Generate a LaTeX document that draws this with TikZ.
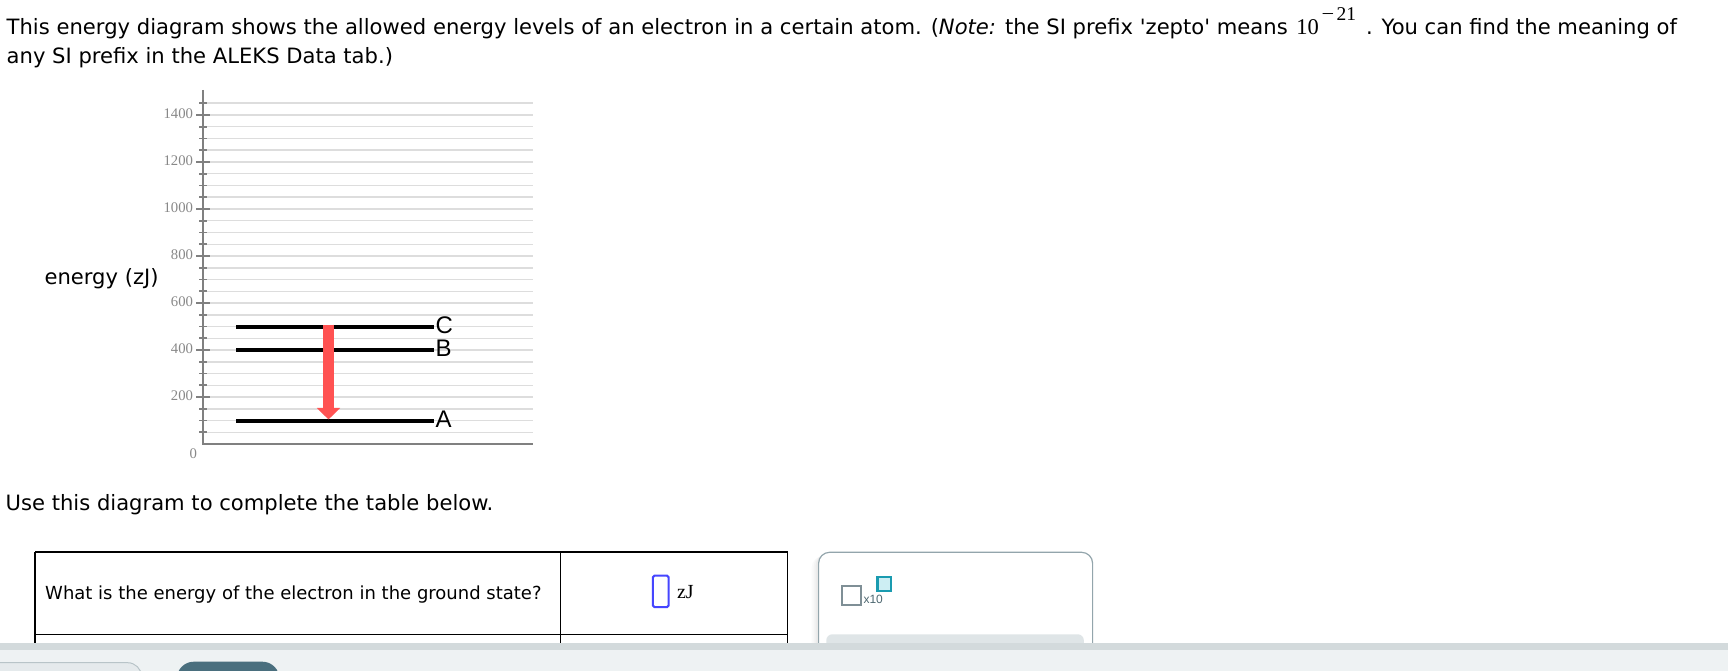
\documentclass[tikz,border=0pt]{standalone}
\usepackage{fontspec}
\usepackage{graphicx}
\usetikzlibrary{arrows.meta}
\newfontfamily\vf{DejaVu Sans}
\newfontfamily\tnr{Liberation Serif}
\newfontfamily\arl{Liberation Sans}
\definecolor{gridc}{RGB}{221,221,221}
\definecolor{axisc}{RGB}{128,128,128}
\definecolor{labc}{RGB}{136,136,136}
\definecolor{arrowc}{RGB}{255,82,82}
\definecolor{barc}{RGB}{211,218,220}
\definecolor{footc}{RGB}{238,242,243}
\definecolor{btnc}{RGB}{74,111,126}
\definecolor{btnl}{RGB}{229,234,236}
\definecolor{btnlb}{RGB}{184,196,200}
\definecolor{panelb}{RGB}{147,165,172}
\definecolor{pbtn}{RGB}{223,229,231}
\definecolor{inblue}{RGB}{70,70,255}
\definecolor{sqg}{RGB}{127,143,150}
\definecolor{tealb}{RGB}{26,155,176}
\definecolor{tealf}{RGB}{205,238,243}
\definecolor{xtc}{RGB}{77,103,112}
\begin{document}
\begin{tikzpicture}[x=1pt,y=-1pt,
  txt/.style={inner sep=0pt, outer sep=0pt, anchor=base west, font=\vf\fontsize{21.1}{25}\selectfont},
  ttxt/.style={inner sep=0pt, outer sep=0pt, anchor=base west, font=\vf\fontsize{18}{20}\selectfont},
  serif/.style={inner sep=0pt, outer sep=0pt, anchor=base west, font=\tnr\fontsize{20}{22}\selectfont},
  bigserif/.style={inner sep=0pt, outer sep=0pt, anchor=base west, font=\tnr\fontsize{22.5}{24}\selectfont},
  sup/.style={inner sep=0pt, outer sep=0pt, anchor=base west, font=\tnr\fontsize{19.5}{21}\selectfont},
  ticklab/.style={inner sep=0pt, outer sep=0pt, anchor=base east, text=labc, font=\tnr\fontsize{14.7}{16}\selectfont},
  gridline/.style={gridc, line width=1.5pt},
  axisline/.style={axisc, line width=2pt},
  majtick/.style={axisc, line width=2pt},
  mintick/.style={axisc, line width=1.6pt},
  lvl/.style={black, line width=4pt},
  lvllab/.style={inner sep=0pt, outer sep=0pt, anchor=west, font=\arl\fontsize{24}{26}\selectfont},
  transarrow/.style={arrowc, line width=11.6pt, -{Triangle[width=22.7pt, length=11.6pt]}},
  tableline/.style={black, line width=1.3pt}
]
\useasboundingbox (0,0) rectangle (1728,671);
\fill[white] (0,0) rectangle (1728,671);

% title
\node[txt] (t1) at (6.7,35) {\resizebox{1281pt}{!}{This energy diagram shows the allowed energy levels of an electron in a certain atom. (\textit{Note:} the SI prefix 'zepto' means}};
\node[bigserif] (ten) at (1296.4,35) {10};
\node[sup] (minus) at (1321.5,21) {\scalebox{1.15}[1]{−}};
\node[sup] (exp) at (1336.5,21) {21};
\node[txt] (t1b) at (1366,35) {. You can find the meaning of};
\node[txt] (t2) at (6.7,63.3) {any SI prefix in the ALEKS Data tab.)};

% grid
\foreach \e in {50,100,...,1450}{
  \draw[gridline] (207,{444-\e*0.235}) -- (532.7,{444-\e*0.235});
}
% axes
\coordinate (ytop) at (203.3,90);
\coordinate (orig) at (203.3,444);
\coordinate (xend) at (532.7,444);
\draw[axisline] (ytop) -- (orig) -- (xend);
\foreach \e in {50,100,...,1450}{
  \pgfmathtruncatemacro\m{mod(\e,200)}
  \ifnum\m=0
    \draw[majtick] (196,{444-\e*0.235}) -- (210,{444-\e*0.235});
    \node[ticklab] at (193,{444-\e*0.235+3.6}) {\e};
  \else
    \draw[mintick] (199.3,{444-\e*0.235}) -- (206.7,{444-\e*0.235});
  \fi
}
\node[inner sep=0pt, text=labc, font=\tnr\fontsize{14.7}{16}\selectfont] (zero) at (193.3,454) {0};
\node[txt] (ylab) at (44.6,284.5) {energy (zJ)};

% levels
\coordinate (Cl) at (236,326.5); \coordinate (Cr) at (434,326.5);
\coordinate (Bl) at (236,350);   \coordinate (Br) at (434,350);
\coordinate (Al) at (236,420.5); \coordinate (Ar) at (434,420.5);
\draw[lvl] (Cl) -- (Cr);
\draw[lvl] (Bl) -- (Br);
\draw[lvl] (Al) -- (Ar);
\node[lvllab] (labC) at (435.5,324.8) {C};
\node[lvllab] (labB) at (435.5,348.5) {B};
\node[lvllab] (labA) at (435.5,419) {A};
\coordinate (arrTop) at (328.5,324.5);
\coordinate (arrTip) at (328.5,419.5);
\draw[transarrow] (arrTop) -- (arrTip);

% second text
\node[txt] (use) at (5.7,510) {Use this diagram to complete the table below.};

% table
\draw[tableline, line width=1.8pt] (35,552.3) -- (787.6,552.3);
\draw[tableline] (35,552.3) -- (35,645);
\draw[tableline] (560.5,552.3) -- (560.5,645);
\draw[tableline] (787.6,552.3) -- (787.6,645);
\draw[tableline, line width=1.6pt] (35,634.3) -- (787.6,634.3);
\node[ttxt] (q) at (45.2,599.5) {What is the energy of the electron in the ground state?};
\draw[inblue, line width=2pt, rounded corners=1.5pt] (652.9,575.7) rectangle (668.6,607);
\node[serif] (unit) at (677,598.3) {zJ};

% answer panel
\foreach \i/\o in {1/0.035,3/0.03,5/0.025,7/0.02}{
  \fill[black, opacity=\o, rounded corners=12pt] (818.6-\i,552.3+\i*0.5) rectangle (1092.6,690);
}
\draw[panelb, fill=white, line width=1.2pt, rounded corners=11pt] (818.6,552.3) rectangle (1092.6,690);
\draw[sqg, fill=white, line width=2.2pt] (841.6,585.7) rectangle (860.7,605.3);
\node[inner sep=0pt, anchor=base west, text=xtc, font=\arl\fontsize{12}{13}\selectfont] (x10) at (863.3,603.5) {x10};
\draw[tealb, fill=tealf, line width=2.2pt] (877.5,576.7) rectangle (891.3,590.7);
\fill[pbtn, rounded corners=6pt] (826.3,634.3) rectangle (1083.8,680);

% footer
\fill[barc] (0,643.3) rectangle (1728,650);
\fill[footc] (0,650) rectangle (1728,671);
\draw[btnlb, fill=btnl, line width=1pt, rounded corners=14pt] (-30,662.7) rectangle (141.6,700);
\fill[btnc, rounded corners=17pt] (176.8,661.7) rectangle (279.4,700);
\end{tikzpicture}
\end{document}
